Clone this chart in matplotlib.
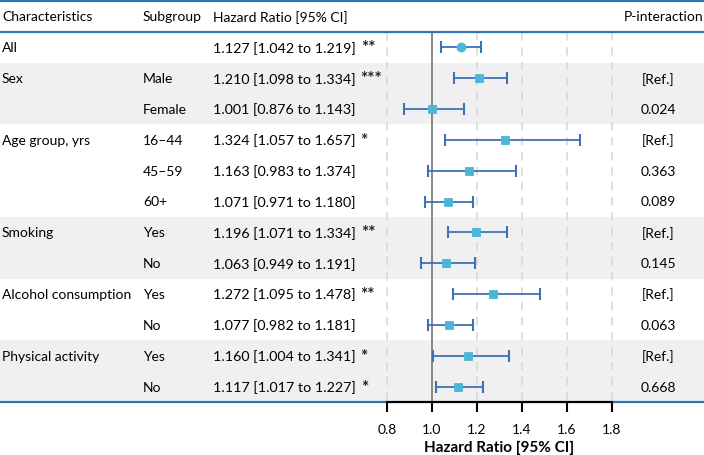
import matplotlib
matplotlib.use("Agg")
import matplotlib.pyplot as plt
import matplotlib.transforms as mtransforms

plt.rcParams['font.family'] = ['Lato', 'DejaVu Sans']

characteristics = ["All", "Sex", "", "Age group, yrs", "", "", "Smoking", "", "Alcohol consumption", "", "Physical activity", ""]
subgroups = ["", "Male", "Female", "16\u201344", "45\u201359", "60+", "Yes", "No", "Yes", "No", "Yes", "No"]
hr = [1.127, 1.210, 1.001, 1.324, 1.163, 1.071, 1.196, 1.063, 1.272, 1.077, 1.160, 1.117]
lower = [1.042, 1.098, 0.876, 1.057, 0.983, 0.971, 1.071, 0.949, 1.095, 0.982, 1.004, 1.017]
upper = [1.219, 1.334, 1.143, 1.657, 1.374, 1.180, 1.334, 1.191, 1.478, 1.181, 1.341, 1.227]
stars = ["**", "***", "", "*", "", "", "**", "", "**", "", "*", "*"]
p_interaction = ["", "[Ref.]", "0.024", "[Ref.]", "0.363", "0.089", "[Ref.]", "0.145", "[Ref.]", "0.063", "[Ref.]", "0.668"]
shaded_rows = [[2, 3], [7, 8], [11, 12]]
xticks = [0.8, 1.0, 1.2, 1.4, 1.6, 1.8]

W, H = 704, 456
fig = plt.figure(figsize=(W / 100, H / 100), dpi=100)

# pixel geometry
x08, x18 = 387, 612
ppu = (x18 - x08) / 1.0
xmin = 0.8 - x08 / ppu
xmax = 1.8 + (W - x18) / ppu
top_px, bot_px = 2, 403
ax = fig.add_axes([0, (H - bot_px) / H, 1, (bot_px - top_px) / H])
ax.set_xlim(xmin, xmax)
ax.set_ylim(12.5, -0.5)

def fx(px):
    return px / W

tr = mtransforms.blended_transform_factory(ax.transAxes, ax.transData)

# shading
for rows in shaded_rows:
    ax.axhspan(min(rows) - 0.5, max(rows) + 0.5, color="#f0f0f0", zorder=0, lw=0)

# grid lines
for t in xticks:
    if t == 1.0:
        ax.plot([t, t], [0.5, 12.5], color="#7f7f7f", lw=1.3, zorder=1)
    else:
        ax.plot([t, t], [0.5, 12.5], color="#d9d9d9", lw=1.2, ls=(0, (5, 4)), zorder=1)

# horizontal blue lines
blue = "#2e75b6"
for yy in [-0.5, 0.5, 12.5]:
    ax.plot([0, 1], [yy, yy], transform=tr, color=blue, lw=1.6, zorder=3, clip_on=False)

# forest marks
ecol = "#3f72b5"
mcol = "#4db6d6"
for i in range(len(hr)):
    y = i + 1
    ax.errorbar(hr[i], y, xerr=[[hr[i] - lower[i]], [upper[i] - hr[i]]], fmt='none',
                ecolor=ecol, elinewidth=1.3, capsize=4.5, capthick=1.5, zorder=4)
    ax.plot(hr[i], y, marker='o' if i == 0 else 's', color=mcol, ms=6.5 if i == 0 else 6,
            mec=mcol, mew=0.6, zorder=5, ls='none')

fs = 10
# header
ax.text(fx(2), 0, "Characteristics", transform=tr, ha='left', va='center', fontsize=fs)
ax.text(fx(143), 0, "Subgroup", transform=tr, ha='left', va='center', fontsize=fs)
ax.text(fx(213), 0, "Hazard Ratio [95% CI]", transform=tr, ha='left', va='center', fontsize=fs)
ax.text(fx(703), 0, "P-interaction", transform=tr, ha='right', va='center', fontsize=fs)

hr_texts = []
for i in range(len(hr)):
    y = i + 1
    ax.text(fx(2), y, characteristics[i], transform=tr, ha='left', va='center', fontsize=fs)
    ax.text(fx(143), y, subgroups[i], transform=tr, ha='left', va='center', fontsize=fs)
    txt = f"{hr[i]:.3f} [{lower[i]:.3f} to {upper[i]:.3f}]"
    t = ax.text(fx(213), y, txt, transform=tr, ha='left', va='center', fontsize=10.3)
    hr_texts.append(t)
    ax.text(fx(658), y, p_interaction[i], transform=tr, ha='center', va='center', fontsize=fs)

# axis
for s in ['top', 'left', 'right']:
    ax.spines[s].set_visible(False)
ax.spines['bottom'].set_bounds(0.8, 1.8)
ax.spines['bottom'].set_linewidth(1.5)
ax.spines['bottom'].set_zorder(4)
ax.set_yticks([])
ax.set_xticks(xticks)
ax.set_xticklabels([f"{t:.1f}" for t in xticks], fontsize=fs)
ax.tick_params(axis='x', direction='out', length=7, width=1.5, pad=8)
ax.set_xlabel("Hazard Ratio [95% CI]", fontsize=11, fontweight='bold', labelpad=3)
ax.xaxis.set_label_coords((1.3 - xmin) / (xmax - xmin), -0.095)
ax.patch.set_alpha(0)

# significance stars placed right after the HR text
fig.canvas.draw()
renderer = fig.canvas.get_renderer()
for i, t in enumerate(hr_texts):
    if stars[i]:
        bb = t.get_window_extent(renderer)
        xa = (bb.x1 + 5) / W
        ax.text(xa, i + 1, stars[i], transform=tr, ha='left', va='center',
                fontsize=12.5, fontweight='bold', color="#222222")

fig.savefig("out.png", dpi=100)
